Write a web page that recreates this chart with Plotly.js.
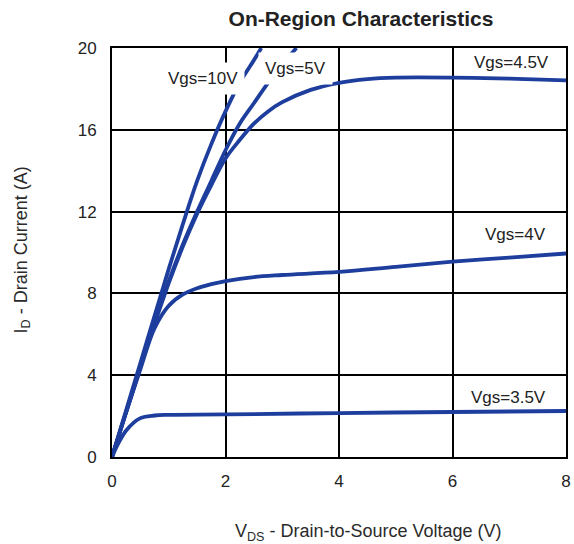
<!DOCTYPE html>
<html>
<head>
<meta charset="utf-8">
<script src="https://cdn.plot.ly/plotly-3.0.1.min.js"></script>
<style>html,body{margin:0;padding:0;background:#fff;}#chart{width:574px;height:544px;}</style>
</head>
<body>
<div id="chart"></div>
<script>
// V_DS values (V) and I_D values (A) for each gate voltage
const vds10 = [0, 0.25, 0.5, 0.75, 1.0, 1.25, 1.5, 1.75, 2.0, 2.25, 2.5, 2.63];
const id10  = [0, 2.3, 4.6, 6.9, 9.2, 11.4, 13.5, 15.3, 16.9, 18.3, 19.4, 20.0];

const vds5 = [0, 0.25, 0.5, 0.75, 1.0, 1.25, 1.5, 1.75, 2.0, 2.25, 2.5, 2.75, 3.0, 3.25];
const id5  = [0, 2.2, 4.4, 6.6, 8.6, 10.4, 12.0, 13.5, 15.0, 16.3, 17.3, 18.3, 19.2, 20.0];

const vds45 = [0, 0.25, 0.5, 0.75, 1.0, 1.25, 1.5, 1.75, 2.0, 2.25, 2.5, 2.75, 3.0, 3.5, 4.0, 4.5, 5.0, 6.0, 7.0, 8.0];
const id45  = [0, 2.2, 4.4, 6.5, 8.5, 10.3, 11.9, 13.3, 14.6, 15.5, 16.3, 16.9, 17.35, 17.95, 18.3, 18.48, 18.55, 18.55, 18.5, 18.42];

const vds4 = [0, 0.25, 0.5, 0.75, 1.0, 1.25, 1.5, 1.75, 2.0, 2.5, 3.0, 4.0, 5.0, 6.0, 7.0, 8.0];
const id4  = [0, 2.2, 4.3, 6.3, 7.4, 7.95, 8.25, 8.45, 8.6, 8.8, 8.9, 9.05, 9.3, 9.55, 9.75, 9.95];

const vds35 = [0, 0.1, 0.25, 0.5, 0.75, 1.0, 2.0, 4.0, 6.0, 8.0];
const id35  = [0, 0.6, 1.3, 1.9, 2.03, 2.06, 2.08, 2.15, 2.2, 2.25];

const labelText = ["Vgs=10V", "Vgs=5V", "Vgs=4.5V", "Vgs=4V", "Vgs=3.5V"];
const labelX = [1.61, 3.24, 7.04, 7.11, 6.98];
const labelY = [18.53, 19.02, 19.27, 10.86, 2.93];

const xTicks = [0, 2, 4, 6, 8];
const yTicks = [0, 4, 8, 12, 16, 20];

const blue = '#1d3e9d';
const series = [[vds10, id10], [vds5, id5], [vds45, id45], [vds4, id4], [vds35, id35]];
const traces = series.map((s, i) => ({
  x: s[0], y: s[1], type: 'scatter', mode: 'lines', name: labelText[i],
  line: {color: blue, width: 3.8, shape: 'spline', smoothing: 1},
  hoverinfo: 'skip'
}));

const font = 'Liberation Sans, Arial, Helvetica, sans-serif';
const annotations = labelText.map((t, i) => ({
  x: labelX[i], y: labelY[i], xref: 'x', yref: 'y', text: t, showarrow: false,
  font: {family: font, size: 17, color: '#222'},
  bgcolor: i < 2 ? '#ffffff' : 'rgba(0,0,0,0)', borderpad: i < 2 ? 6 : 0
}));
annotations.push({
  xref: 'paper', yref: 'paper', x: (368 - 112) / 454, xanchor: 'center', y: -0.185, yanchor: 'middle',
  text: 'V<sub>DS</sub> - Drain-to-Source Voltage (V)', showarrow: false,
  font: {family: font, size: 18, color: '#2a2a2a'}
});
annotations.push({
  xref: 'paper', yref: 'paper', x: (22 - 112) / 454, xanchor: 'center', y: 0.505, yanchor: 'middle', textangle: -90,
  text: 'I<sub>D</sub> - Drain Current (A)', showarrow: false,
  font: {family: font, size: 18, color: '#2a2a2a'}
});

const layout = {
  width: 574, height: 544,
  margin: {l: 112, r: 8, t: 48, b: 87},
  paper_bgcolor: '#fff', plot_bgcolor: '#fff',
  showlegend: false,
  title: {text: '<b>On-Region Characteristics</b>', x: 361 / 574, xref: 'container', xanchor: 'center',
          y: 1 - 19 / 544, yref: 'container', yanchor: 'middle',
          font: {family: font, size: 21, color: '#222'}},
  xaxis: {range: [0, 8], tickvals: xTicks, ticktext: xTicks.map(String), showgrid: true,
          gridcolor: '#000', gridwidth: 2, showline: true, linecolor: '#000', linewidth: 2, mirror: true,
          zeroline: false, ticks: '', ticklabelstandoff: 8,
          tickfont: {family: font, size: 17, color: '#222'}, fixedrange: true},
  yaxis: {range: [0, 20], tickvals: yTicks, ticktext: yTicks.map(String), showgrid: true,
          gridcolor: '#000', gridwidth: 2, showline: true, linecolor: '#000', linewidth: 2, mirror: true,
          zeroline: false, ticks: '', ticklabelstandoff: 10,
          tickfont: {family: font, size: 17, color: '#222'}, fixedrange: true},
  annotations: annotations
};

Plotly.newPlot('chart', traces, layout, {staticPlot: true});
</script>
</body>
</html>
